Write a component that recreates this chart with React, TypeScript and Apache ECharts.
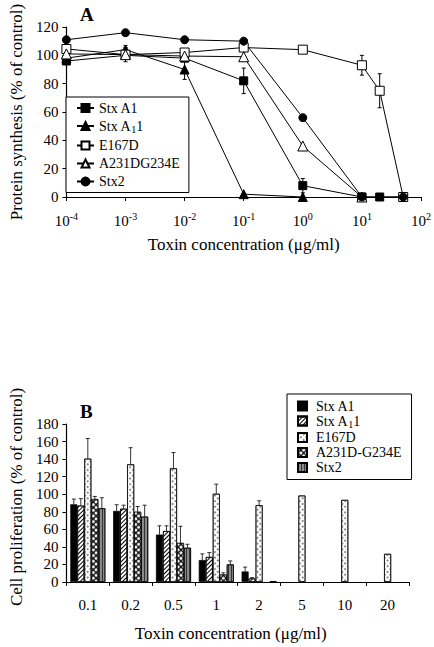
import React, { useEffect, useRef } from 'react';
import * as echarts from 'echarts';

// ---------- Panel A data ----------
const concA = [1e-4, 1e-3, 1e-2, 1e-1, 1, 10, 20, 50];
const stxA1A = [96, 100, 98, 82, 8, 0, 0, 0];
const stxA11A = [98, 104, 90, 2, 0];
const e167dA = [104.5, 100.5, 102, 105.5, 104, 93, 75, 0];
const a231dA = [101, 100.5, 99.5, 99, 36, 0];
const stx2A = [111, 116, 111, 110, 56, 0, null, 0];
const extraOpenSquareA = [[10, 0]];
// [concentration, value, error]
const errorsA = [
  [1e-1, 82, 9],
  [1, 8, 5],
  [1e-2, 90, 7],
  [1e-3, 104, 3],
  [1e-3, 100.5, 5],
  [10, 93, 7],
  [20, 75, 12],
  [1e-2, 111, 2],
];
const seriesNamesA = ['Stx A1', 'Stx A₁1', 'E167D', 'A231DG234E', 'Stx2'];

// ---------- Panel B data ----------
const categoriesB = ['0.1', '0.2', '0.5', '1', '2', '5', '10', '20'];
const stxA1B = [88.5, 81, 54, 25, 12, '-', '-', '-'];
const stxA11B = [87, 83.5, 58, 28.5, 4, '-', '-', '-'];
const e167dB = [140.5, 134, 129.5, 100.5, 87.5, 98.5, 93.5, 32];
const a231dB = [94.5, 80, 44.5, 8.5, '-', '-', '-', '-'];
const stx2B = [84, 74.5, 39, 20, 1, '-', '-', '-'];
const stxA1BErr = [6, 7, 10, 7, 5, 0, 0, 0];
const stxA11BErr = [8, 4, 6, 5, 1, 0, 0, 0];
const e167dBErr = [23, 19, 18, 11, 5, 0, 0, 0];
const a231dBErr = [3, 6, 19, 2, 0, 0, 0, 0];
const stx2BErr = [12, 13, 4, 4, 0, 0, 0, 0];
const seriesNamesB = ['Stx A1', 'Stx A₁1', 'E167D', 'A231D-G234E', 'Stx2'];

const FONT = 'Liberation Serif';

const pairs = (vals: any[]) =>
  vals.map((v, i) => [concA[i], v]).filter((p) => p[1] !== null && p[1] !== undefined);

const legendFormatter = (name: string) => name.replace('₁', '{sub|1}');

function buildA(): any {
  const lineBase = (name: string, data: any[], symbol: string, filled: boolean, size: number) => ({
    name,
    type: 'line',
    data,
    symbol,
    symbolSize: size,
    clip: false,
    lineStyle: { color: '#000', width: 1 },
    itemStyle: { color: filled ? '#000' : '#fff', borderColor: '#000', borderWidth: 1 },
    z: 3,
  });
  return {
    animation: false,
    backgroundColor: '#fff',
    textStyle: { fontFamily: FONT, color: '#000' },
    title: {
      text: 'A',
      left: 75,
      top: 0,
      textStyle: { fontFamily: FONT, fontWeight: 'bold', fontSize: 19, color: '#000' },
    },
    legend: {
      data: seriesNamesA,
      orient: 'vertical',
      left: 66,
      top: 97,
      padding: [4, 9, 4, 10],
      itemGap: 4,
      itemWidth: 17,
      itemHeight: 10,
      borderColor: '#000',
      borderWidth: 1,
      backgroundColor: '#fff',
      formatter: legendFormatter,
      textStyle: {
        fontFamily: FONT,
        fontSize: 14,
        color: '#000',
        rich: { sub: { fontFamily: FONT, fontSize: 10, color: '#000', padding: [7, 0, 0, 0] } },
      },
    },
    grid: { left: 60, top: 27, width: 362, height: 170 },
    xAxis: {
      type: 'log',
      logBase: 10,
      min: 1e-4,
      max: 100,
      splitNumber: 6,
      name: 'Toxin concentration (μg/ml)',
      nameLocation: 'middle',
      nameGap: 39,
      nameTextStyle: { fontFamily: FONT, fontSize: 17, color: '#000' },
      axisLine: { lineStyle: { color: '#000', width: 1.2 } },
      axisTick: { show: true, length: 4, lineStyle: { color: '#000' } },
      minorTick: { show: false },
      splitLine: { show: false },
      axisLabel: {
        margin: 14,
        fontFamily: FONT,
        fontSize: 15,
        color: '#000',
        formatter: (v: number) => `10{sup|${Math.round(Math.log10(v))}}`,
        rich: { sup: { fontFamily: FONT, fontSize: 10, color: '#000', padding: [0, 0, 9, 0] } },
      },
    },
    yAxis: {
      type: 'value',
      min: 0,
      max: 120,
      interval: 20,
      name: 'Protein synthesis (% of control)',
      nameLocation: 'middle',
      nameGap: 41,
      nameTextStyle: { fontFamily: FONT, fontSize: 17, color: '#000' },
      axisLine: { show: true, lineStyle: { color: '#000', width: 1.2 } },
      axisTick: { show: true, length: 4, lineStyle: { color: '#000' } },
      splitLine: { show: false },
      axisLabel: { margin: 8, fontFamily: FONT, fontSize: 15, color: '#000' },
    },
    series: [
      lineBase(seriesNamesA[0], pairs(stxA1A), 'rect', true, 8),
      lineBase(seriesNamesA[1], pairs(stxA11A), 'triangle', true, 9),
      lineBase(seriesNamesA[2], pairs(e167dA), 'rect', false, 9),
      lineBase(seriesNamesA[3], pairs(a231dA), 'triangle', false, 10),
      lineBase(seriesNamesA[4], pairs(stx2A), 'circle', true, 8),
      {
        name: 'E167D extra',
        type: 'scatter',
        data: extraOpenSquareA,
        symbol: 'rect',
        symbolSize: 8,
        clip: false,
        itemStyle: { color: '#fff', borderColor: '#000', borderWidth: 1 },
        z: 2,
      },
      {
        type: 'custom',
        name: 'errA',
        data: errorsA,
        z: 2,
        renderItem: (params: any, api: any) => {
          const x = api.value(0);
          const y = api.value(1);
          const e = api.value(2);
          const top = api.coord([x, y + e]);
          const bot = api.coord([x, Math.max(0, y - e)]);
          const style = { stroke: '#000', lineWidth: 1 };
          return {
            type: 'group',
            children: [
              { type: 'line', shape: { x1: top[0], y1: top[1], x2: bot[0], y2: bot[1] }, style },
              { type: 'line', shape: { x1: top[0] - 2, y1: top[1], x2: top[0] + 2, y2: top[1] }, style },
              { type: 'line', shape: { x1: bot[0] - 2, y1: bot[1], x2: bot[0] + 2, y2: bot[1] }, style },
            ],
          };
        },
      },
    ],
  };
}

function buildB(): any {
  const BW = 7;
  const barStyle = (i: number) => {
    const border = { borderColor: '#000', borderWidth: 0.7 };
    switch (i) {
      case 0:
        return { color: '#000', ...border };
      case 1:
        return {
          color: '#fff',
          ...border,
          decal: { symbol: 'rect', symbolSize: 1, color: '#000', dashArrayX: [1, 0], dashArrayY: [1, 1.7], rotation: -Math.PI / 4 },
        };
      case 2:
        return {
          color: '#fff',
          ...border,
          decal: { symbol: 'circle', symbolSize: 0.9, color: '#666', dashArrayX: [1.2, 1.6], dashArrayY: [1.2, 1.6], rotation: Math.PI / 4 },
        };
      case 3:
        return {
          color: '#111',
          ...border,
          decal: { symbol: 'circle', symbolSize: 1, color: '#fff', dashArrayX: [2.8, 0.6], dashArrayY: [2.8, 0.6], rotation: Math.PI / 4 },
        };
      default:
        return {
          color: '#8a8a8a',
          ...border,
          decal: { symbol: 'rect', symbolSize: 1, color: '#333', dashArrayX: [1, 1.5], dashArrayY: [10, 0], rotation: 0 },
        };
    }
  };
  const values = [stxA1B, stxA11B, e167dB, a231dB, stx2B];
  const errs = [stxA1BErr, stxA11BErr, e167dBErr, a231dBErr, stx2BErr];
  const errData: any[] = [];
  values.forEach((vals, si) => {
    vals.forEach((v: any, ci: number) => {
      if (typeof v === 'number' && errs[si][ci] > 0) errData.push([ci, v, errs[si][ci], si]);
    });
  });
  return {
    animation: false,
    backgroundColor: '#fff',
    textStyle: { fontFamily: FONT, color: '#000' },
    title: {
      text: 'B',
      left: 75,
      top: 67,
      textStyle: { fontFamily: FONT, fontWeight: 'bold', fontSize: 19, color: '#000' },
    },
    legend: {
      data: seriesNamesB,
      orient: 'vertical',
      left: 287,
      top: 64,
      padding: [5, 10, 5, 10],
      itemGap: 1,
      itemWidth: 9,
      itemHeight: 9,
      icon: 'rect',
      borderColor: '#000',
      borderWidth: 1,
      backgroundColor: '#fff',
      formatter: legendFormatter,
      textStyle: {
        fontFamily: FONT,
        fontSize: 14,
        color: '#000',
        padding: [0, 0, 0, 4],
        rich: { sub: { fontFamily: FONT, fontSize: 10, color: '#000', padding: [7, 0, 0, 0] } },
      },
    },
    grid: { left: 59, top: 94, width: 350, height: 161 },
    xAxis: {
      type: 'category',
      data: categoriesB,
      name: 'Toxin concentration (μg/ml)',
      nameLocation: 'middle',
      nameGap: 43,
      nameTextStyle: { fontFamily: FONT, fontSize: 17, color: '#000', padding: [0, 14, 0, 0] },
      axisLine: { lineStyle: { color: '#000', width: 1.2 } },
      axisTick: { show: true, length: 4, lineStyle: { color: '#000' } },
      splitLine: { show: false },
      axisLabel: { margin: 15, fontFamily: FONT, fontSize: 15, color: '#000' },
    },
    yAxis: {
      type: 'value',
      min: 0,
      max: 180,
      interval: 20,
      name: 'Cell proliferation (% of control)',
      nameLocation: 'middle',
      nameGap: 41,
      nameTextStyle: { fontFamily: FONT, fontSize: 17, color: '#000', padding: [0, 0, 0, 12] },
      axisLine: { show: true, lineStyle: { color: '#000', width: 1.2 } },
      axisTick: { show: true, length: 4, lineStyle: { color: '#000' } },
      splitLine: { show: false },
      axisLabel: { margin: 8, fontFamily: FONT, fontSize: 15, color: '#000' },
    },
    series: [
      ...values.map((vals, i) => ({
        name: seriesNamesB[i],
        type: 'bar',
        data: vals,
        barWidth: BW,
        barGap: '0%',
        itemStyle: barStyle(i),
      })),
      {
        type: 'custom',
        name: 'errB',
        data: errData,
        z: 5,
        renderItem: (params: any, api: any) => {
          const ci = api.value(0);
          const v = api.value(1);
          const e = api.value(2);
          const si = api.value(3);
          const base = api.coord([ci, v]);
          const top = api.coord([ci, v + e]);
          const x = base[0] + (si - 2) * BW;
          const style = { stroke: '#000', lineWidth: 0.8 };
          return {
            type: 'group',
            children: [
              { type: 'line', shape: { x1: x, y1: top[1], x2: x, y2: base[1] }, style },
              { type: 'line', shape: { x1: x - 2, y1: top[1], x2: x + 2, y2: top[1] }, style },
            ],
          };
        },
      },
    ],
  };
}

export default function App() {
  const refA = useRef<HTMLDivElement>(null);
  const refB = useRef<HTMLDivElement>(null);
  useEffect(() => {
    document.body.style.margin = '0';
    const a = echarts.init(refA.current!, undefined, { renderer: 'svg' });
    const b = echarts.init(refB.current!, undefined, { renderer: 'svg' });
    a.setOption(buildA());
    b.setOption(buildB());
    return () => {
      a.dispose();
      b.dispose();
    };
  }, []);
  return (
    <div style={{ position: 'fixed', left: 0, top: 0, width: 434, height: 647, background: '#fff' }}>
      <div ref={refA} style={{ position: 'absolute', left: 0, top: 0, width: 434, height: 330 }} />
      <div ref={refB} style={{ position: 'absolute', left: 0, top: 330, width: 434, height: 317 }} />
    </div>
  );
}
